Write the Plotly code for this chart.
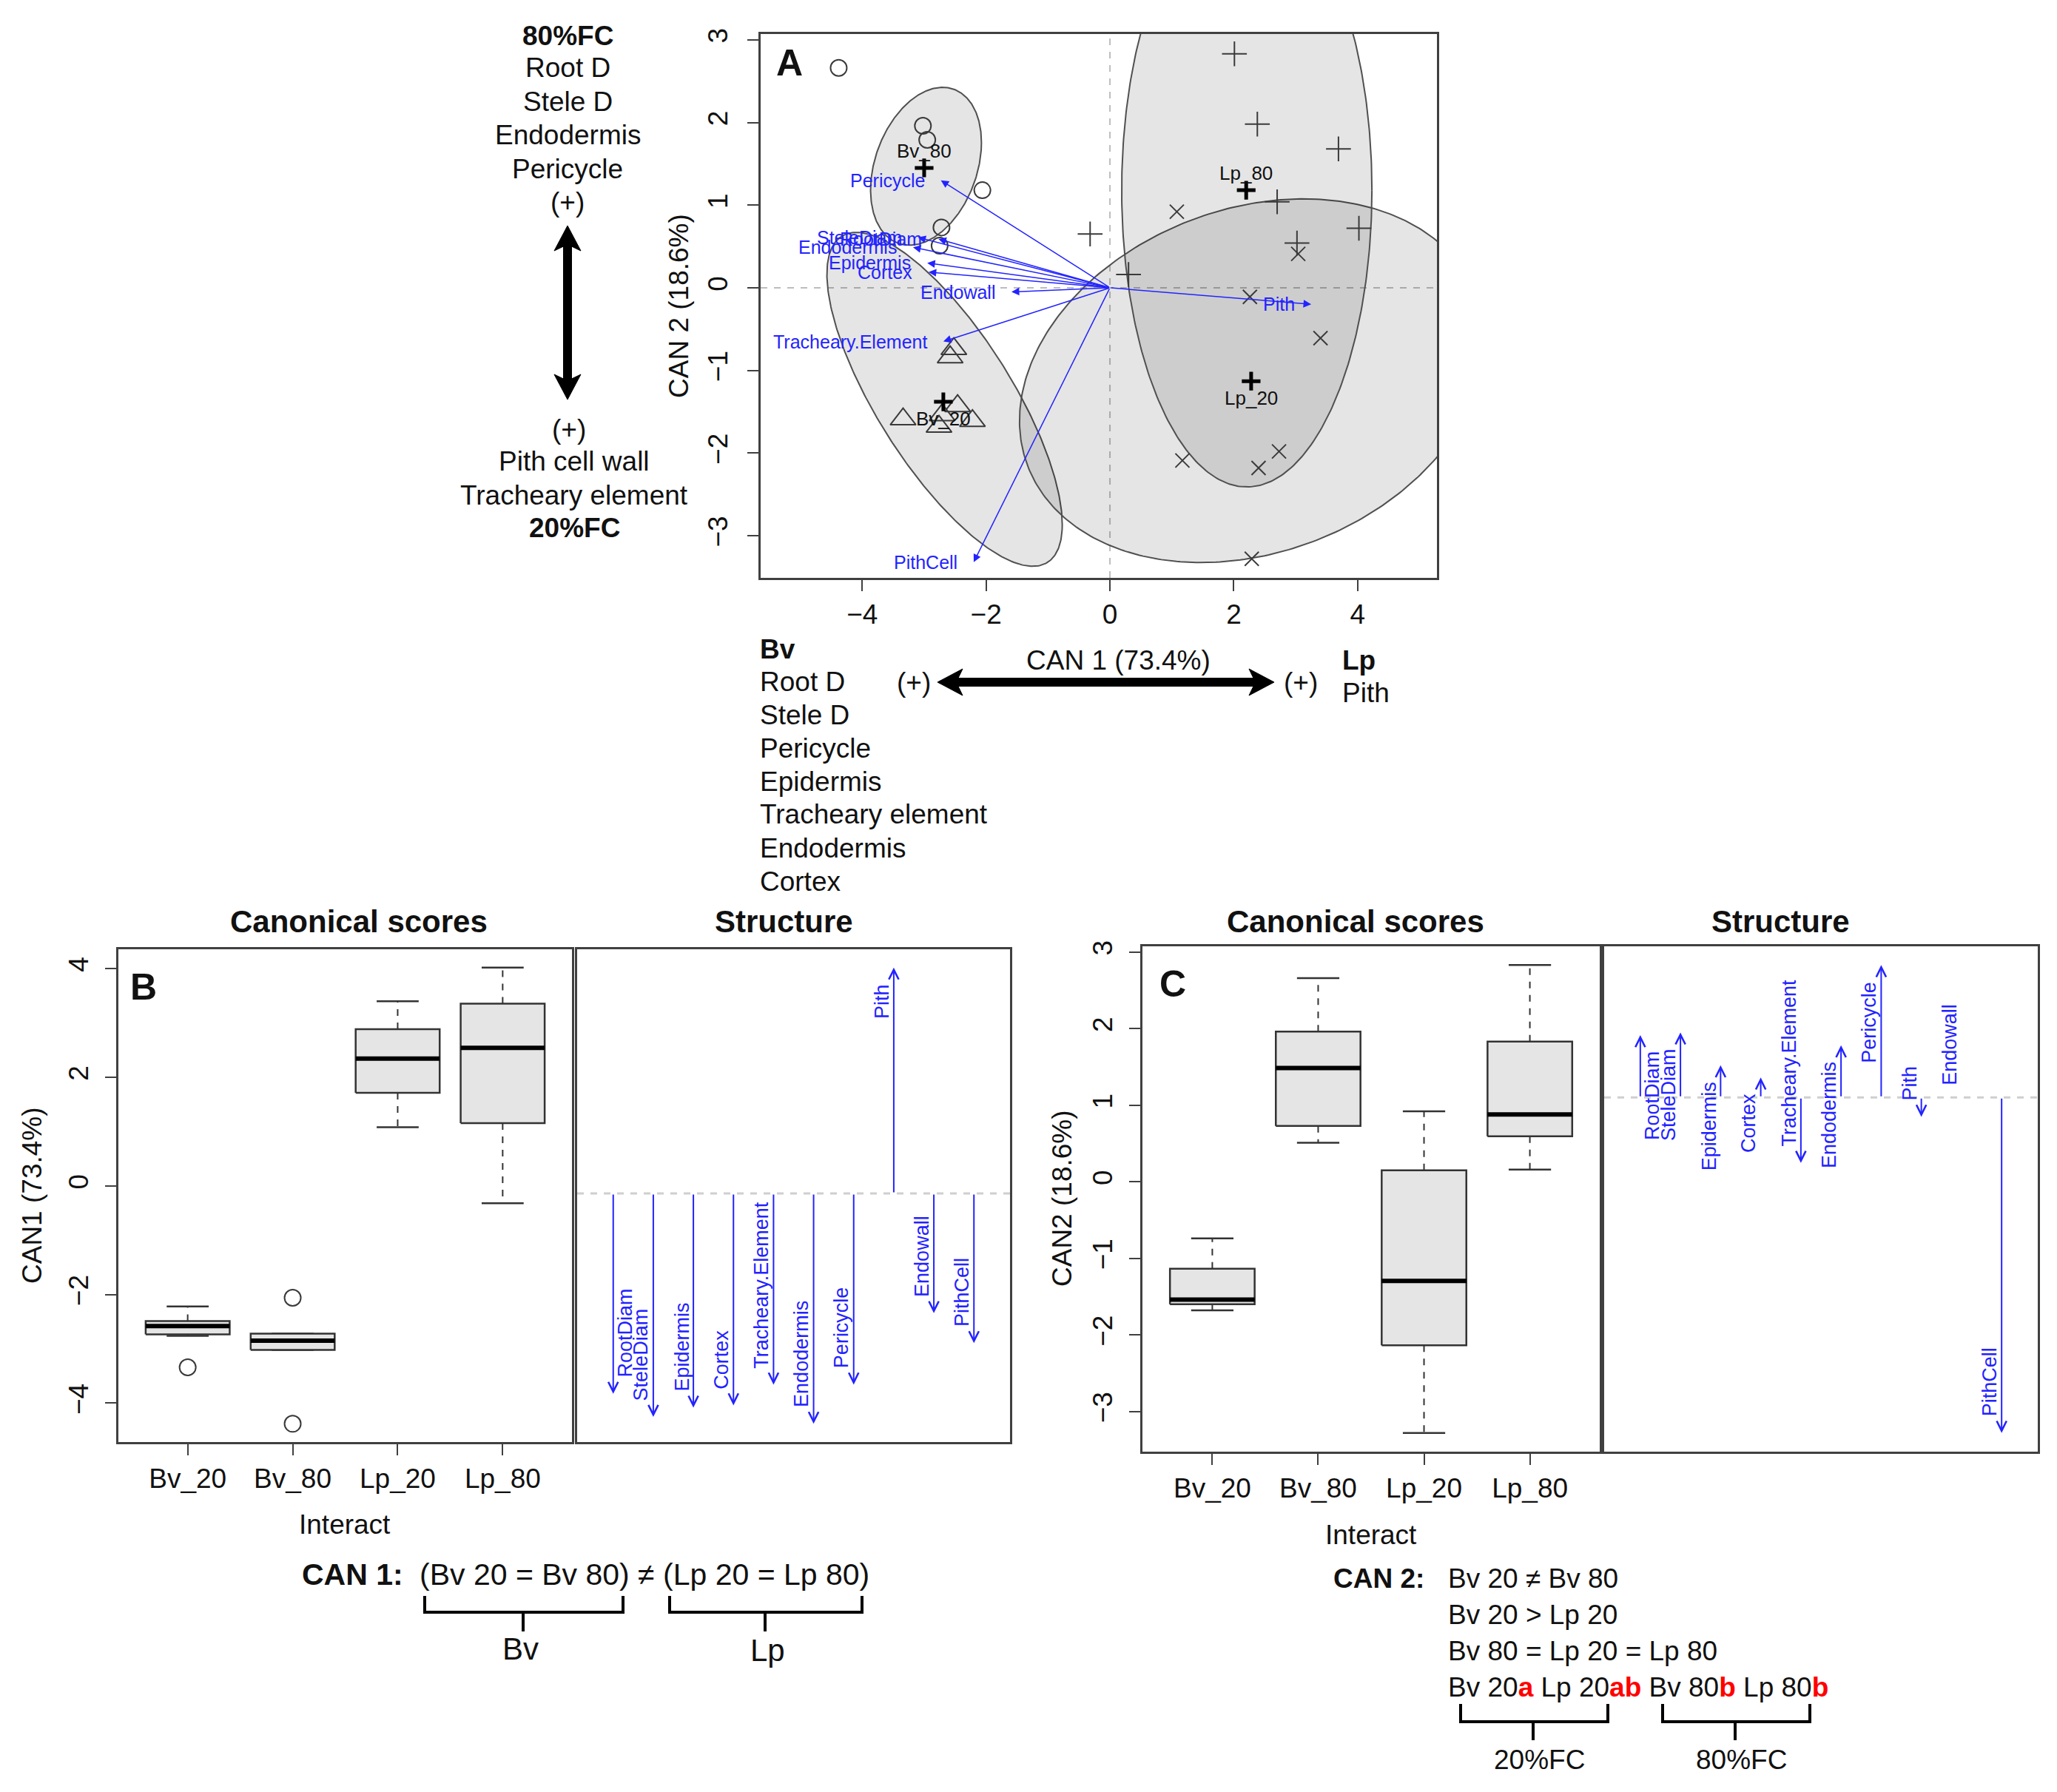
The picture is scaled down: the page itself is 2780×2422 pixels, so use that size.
import numpy as np
import plotly.graph_objects as go

W, H = 2780, 2422
FONT = "Liberation Sans, Arial, Helvetica, sans-serif"
BLUE = "#2323ff"
INK = "#111111"
FRAME = "#404040"
PT = "#3a3a3a"

# ---------------- data ----------------
groups = ["Bv_20", "Bv_80", "Lp_20", "Lp_80"]

bv20_can1 = [-2.52, -2.58, -3.34, -2.71, -2.46, -2.22, -2.76]
bv20_can2 = [-0.74, -0.84, -1.59, -1.54, -1.43, -1.61, -1.68]
bv80_can1 = [-4.38, -3.02, -2.95, -2.06, -2.72, -2.75]
bv80_can2 = [2.66, 1.96, 1.79, 1.18, 0.73, 0.51]
lp20_can1 = [1.08, 3.04, 2.26, 3.40, 1.17, 2.40, 2.73, 2.29]
lp20_can2 = [0.92, 0.41, -0.11, -0.61, -2.09, -2.18, -1.98, -3.28]
lp80_can1 = [2.01, 2.38, 3.69, 2.70, 4.02, 3.02, -0.32, 0.30]
lp80_can2 = [2.83, 1.98, 1.68, 1.04, 0.72, 0.54, 0.65, 0.16]

# group centroids (bold "+")
cent_can1 = [-2.69, -3.00, 2.28, 2.20]
cent_can2 = [-1.38, 1.45, -1.13, 1.18]

# data ellipses: centre, half-width, half-height, correlation
ell_cx = [-2.67, -2.97, 2.30, 2.21]
ell_cy = [-1.35, 1.47, -1.125, 1.18]
ell_hw = [1.90, 0.895, 3.76, 2.02]
ell_hh = [2.02, 0.955, 2.20, 3.59]
ell_rho = [-0.75, 0.30, 0.22, 0.0]

# structure vectors in panel A (arrow tips)
vars_ = ["RootDiam", "SteleDiam", "Epidermis", "Cortex", "Tracheary.Element",
         "Endodermis", "Pericycle", "Pith", "Endowall", "PithCell"]
vec_can1 = [-2.77, -3.10, -2.95, -2.93, -2.69, -3.18, -2.73, 3.25, -1.59, -2.20]
vec_can2 = [0.59, 0.61, 0.30, 0.19, -0.65, 0.49, 1.30, -0.20, -0.05, -3.32]

# structure coefficients (panels B and C)
struct_can1 = [-0.87, -0.97, -0.93, -0.92, -0.83, -1.00, -0.83, 0.98, -0.52, -0.65]
struct_can2 = [0.184, 0.192, 0.095, 0.059, -0.193, 0.154, 0.391, -0.057, -0.012, -0.99]

can1_by_group = [bv20_can1, bv80_can1, lp20_can1, lp80_can1]
can2_by_group = [bv20_can2, bv80_can2, lp20_can2, lp80_can2]


def pxr(x):
    return x / W


def pyr(y):
    return 1 - y / H


fig = go.Figure()

# ---------------- Panel A ----------------
t = np.linspace(0, 2 * np.pi, 361)
for cx, cy, hw, hh, rho in zip(ell_cx, ell_cy, ell_hw, ell_hh, ell_rho):
    ex = cx + hw * np.cos(t)
    ey = cy + hh * (rho * np.cos(t) + np.sqrt(1 - rho ** 2) * np.sin(t))
    fig.add_trace(go.Scatter(x=ex, y=ey, mode="lines", fill="toself",
                             fillcolor="rgba(0,0,0,0.10)",
                             line=dict(color="#505050", width=2),
                             xaxis="x", yaxis="y", hoverinfo="skip", showlegend=False))

sym = ["triangle-up-open", "circle-open", "x-thin", "cross-thin"]
sizes = [30, 22, 19, 24]
for g, s, sz in zip(range(4), sym, sizes):
    fig.add_trace(go.Scatter(x=can1_by_group[g], y=can2_by_group[g], mode="markers",
                             marker=dict(symbol=s, size=sz, color=PT,
                                         line=dict(color=PT, width=2)),
                             xaxis="x", yaxis="y", showlegend=False, hoverinfo="skip"))

fig.add_trace(go.Scatter(x=cent_can1, y=cent_can2, mode="markers",
                         marker=dict(symbol="cross-thin", size=18, color="black",
                                     line=dict(color="black", width=5)),
                         xaxis="x", yaxis="y", showlegend=False, hoverinfo="skip"))

ann = []
shapes = []


def T(text, x, y, size=37, bold=False, xanchor="center", yanchor="middle",
      color=INK, angle=0):
    if bold:
        text = "<b>" + text + "</b>"
    ann.append(dict(text=text, x=pxr(x), y=pyr(y), xref="paper", yref="paper",
                    xanchor=xanchor, yanchor=yanchor, showarrow=False,
                    font=dict(family=FONT, size=size, color=color), textangle=angle))


# group labels in panel A
for g in range(4):
    up = groups[g].endswith("80")
    ann.append(dict(text=groups[g], x=cent_can1[g], y=cent_can2[g], xref="x", yref="y",
                    showarrow=False, yshift=23 if up else -23,
                    font=dict(family=FONT, size=26, color=INK)))

# vectors in panel A
for name, vx, vy in zip(vars_, vec_can1, vec_can2):
    ann.append(dict(text="", x=vx, y=vy, ax=0, ay=0, xref="x", yref="y",
                    axref="x", ayref="y", showarrow=True, arrowhead=2,
                    arrowsize=1.4, arrowwidth=1.5, arrowcolor=BLUE, standoff=0))
    ann.append(dict(text=name, x=vx, y=vy, xref="x", yref="y", showarrow=False,
                    xanchor="right", yanchor="middle", xshift=-20,
                    font=dict(family=FONT, size=25, color=BLUE)))

# zero lines in A
shapes.append(dict(type="line", xref="x", yref="y domain", x0=0, x1=0, y0=0, y1=1,
                   line=dict(color="#bdbdbd", width=2, dash="dash"), layer="below"))
shapes.append(dict(type="line", xref="x domain", yref="y", x0=0, x1=1, y0=0, y1=0,
                   line=dict(color="#bdbdbd", width=2, dash="dash"), layer="below"))

# ---------------- Box plots (B: CAN1, C: CAN2) ----------------


def fivenum(vals):
    s = sorted(vals)
    n = len(s)
    n4 = np.floor((n + 3) / 2) / 2
    d = [1, n4, (n + 1) / 2, n + 1 - n4, n]
    return [0.5 * (s[int(np.floor(di - 1))] + s[int(np.ceil(di - 1))]) for di in d]


def add_box(xpos, vals, xa, ya):
    f = fivenum(vals)
    lo, med, hi = f[1], f[2], f[3]
    iqr = hi - lo
    inside = [v for v in vals if lo - 1.5 * iqr <= v <= hi + 1.5 * iqr]
    outl = [v for v in vals if v not in inside]
    lw, uw = min(inside), max(inside)
    common = dict(xaxis=xa, yaxis=ya, showlegend=False, hoverinfo="skip")
    fig.add_trace(go.Scatter(x=[xpos, xpos, None, xpos, xpos], y=[hi, uw, None, lo, lw],
                             mode="lines", line=dict(color="#333333", width=2, dash="dash"), **common))
    fig.add_trace(go.Scatter(x=[xpos - 0.2, xpos + 0.2, None, xpos - 0.2, xpos + 0.2],
                             y=[uw, uw, None, lw, lw], mode="lines",
                             line=dict(color="#333333", width=2.5), **common))
    fig.add_trace(go.Scatter(x=[xpos - 0.4, xpos + 0.4, xpos + 0.4, xpos - 0.4, xpos - 0.4],
                             y=[lo, lo, hi, hi, lo], mode="lines", fill="toself",
                             fillcolor="#e5e5e5", line=dict(color="#333333", width=2.5), **common))
    fig.add_trace(go.Scatter(x=[xpos - 0.4, xpos + 0.4], y=[med, med], mode="lines",
                             line=dict(color="black", width=6), **common))
    if outl:
        fig.add_trace(go.Scatter(x=[xpos] * len(outl), y=outl, mode="markers",
                                 marker=dict(symbol="circle-open", size=22, color=PT,
                                             line=dict(color=PT, width=2)), **common))


for i in range(4):
    add_box(i + 1, can1_by_group[i], "x2", "y2")
    add_box(i + 1, can2_by_group[i], "x4", "y4")


def padded(vals):
    lo, hi = min(vals), max(vals)
    p = 0.04 * (hi - lo)
    return [lo - p, hi + p]


all1 = [v for g in can1_by_group for v in g]
all2 = [v for g in can2_by_group for v in g]

# ---------------- Structure panels ----------------
for xa, ya, vals in [("x3", "y3", struct_can1), ("x5", "y5", struct_can2)]:
    shapes.append(dict(type="line", xref=xa + " domain", yref=ya, x0=0, x1=1, y0=0, y1=0,
                       line=dict(color="#cfcfcf", width=3, dash="dash"), layer="below"))
    for i, (name, v) in enumerate(zip(vars_, vals)):
        ann.append(dict(text="", x=i + 1, y=v, ax=i + 1, ay=0, xref=xa, yref=ya,
                        axref=xa, ayref=ya, showarrow=True, arrowhead=5, arrowsize=1.3,
                        arrowwidth=2, arrowcolor=BLUE, standoff=0))
        down = v < 0
        ann.append(dict(text=name, x=i + 1, y=v, xref=xa, yref=ya, showarrow=False,
                        textangle=-90, xanchor="center",
                        yanchor="bottom" if down else "top",
                        yshift=20 if down else -20,
                        xshift=16 if name == "RootDiam" else -16,
                        font=dict(family=FONT, size=27, color=BLUE)))

# ---------------- Text blocks ----------------
# left block (CAN2 interpretation)
T("80%FC", 767, 48, bold=True)
T("Root D", 767, 92)
T("Stele D", 767, 138)
T("Endodermis", 767, 183)
T("Pericycle", 767, 228)
T("(+)", 767, 274)
T("(+)", 769, 580)
T("Pith cell wall", 776, 624)
T("Tracheary element", 776, 669)
T("20%FC", 776, 713, bold=True)

# bottom block (CAN1 interpretation)
for txt, yy, b in [("Bv", 877, True), ("Root D", 921, False), ("Stele D", 966, False),
                   ("Pericycle", 1011, False), ("Epidermis", 1056, False),
                   ("Tracheary element", 1101, False), ("Endodermis", 1146, False),
                   ("Cortex", 1191, False)]:
    T(txt, 1025, yy, bold=b, xanchor="left")
T("(+)", 1235, 922)
T("(+)", 1758, 922)
T("CAN 1 (73.4%)", 1511, 892)
T("Lp", 1812, 893, bold=True, xanchor="left")
T("Pith", 1812, 936, xanchor="left")

# axis titles / panel letters / panel titles
T("CAN 2 (18.6%)", 917, 414, angle=-90)
T("CAN1 (73.4%)", 43, 1616, angle=-90)
T("CAN2 (18.6%)", 1436, 1620, angle=-90)
T("Interact", 466, 2060)
T("Interact", 1853, 2074)
T("A", 1067, 85, size=50, bold=True)
T("B", 194, 1334, size=50, bold=True)
T("C", 1585, 1330, size=50, bold=True)
T("Canonical scores", 485, 1245, size=42, bold=True)
T("Structure", 1059, 1245, size=42, bold=True)
T("Canonical scores", 1832, 1245, size=42, bold=True)
T("Structure", 2406, 1245, size=42, bold=True)

# equations
T("CAN 1:", 406, 2128, size=41, bold=True, xanchor="left")
T("(Bv 20 = Bv 80) \u2260 (Lp 20 = Lp 80)", 565, 2128, size=41, xanchor="left")
T("Bv", 703, 2228, size=42)
T("Lp", 1037, 2230, size=42)
T("CAN 2:", 1800, 2133, bold=True, xanchor="left")
T("Bv 20 \u2260 Bv 80", 1955, 2133, xanchor="left")
T("Bv 20 > Lp 20", 1955, 2182, xanchor="left")
T("Bv 80 = Lp 20 = Lp 80", 1955, 2231, xanchor="left")
R = "<b><span style='color:#ff0000'>%s</span></b>"
T("Bv 20" + R % "a" + " Lp 20" + R % "ab" + " Bv 80" + R % "b" + " Lp 80" + R % "b",
  1955, 2280, xanchor="left")
T("20%FC", 2080, 2378)
T("80%FC", 2353, 2378)


def P(pts, close=True):
    s = "M" + " L".join("%.5f,%.5f" % (pxr(a), pyr(b)) for a, b in pts)
    return s + (" Z" if close else "")


# big double-headed arrows (drawn as filled outlines)
vx, vt, vb = 767, 305, 540
shapes.append(dict(type="path", xref="paper", yref="paper", fillcolor="black",
                   line=dict(color="black", width=1),
                   path=P([(vx, vt), (vx + 18, vt + 34), (vx + 5.5, vt + 28), (vx + 5.5, vb - 28),
                           (vx + 18, vb - 34), (vx, vb), (vx - 18, vb - 34), (vx - 5.5, vb - 28),
                           (vx - 5.5, vt + 28), (vx - 18, vt + 34)])))
hy, hl, hr = 922, 1267, 1722
shapes.append(dict(type="path", xref="paper", yref="paper", fillcolor="black",
                   line=dict(color="black", width=1),
                   path=P([(hl, hy), (hl + 34, hy - 18), (hl + 28, hy - 5.5), (hr - 28, hy - 5.5),
                           (hr - 34, hy - 18), (hr, hy), (hr - 34, hy + 18), (hr - 28, hy + 5.5),
                           (hl + 28, hy + 5.5), (hl + 34, hy + 18)])))


def bracket(x0, x1, xm, ytop, ybar, ybot):
    p = P([(x0, ytop), (x0, ybar), (x1, ybar), (x1, ytop)], close=False) + " " + \
        P([(xm, ybar), (xm, ybot)], close=False)
    shapes.append(dict(type="path", xref="paper", yref="paper", path=p,
                       line=dict(color="black", width=4)))


bracket(574, 842, 707, 2157, 2179, 2205)
bracket(905, 1165, 1034, 2157, 2179, 2205)
bracket(1974, 2173, 2072, 2303, 2327, 2352)
bracket(2247, 2446, 2345, 2303, 2327, 2352)

# ---------------- axes ----------------


def axis(dom, rng, **kw):
    d = dict(domain=dom, range=rng, showline=True, linecolor=FRAME, linewidth=2.5,
             mirror=True, showgrid=False, zeroline=False, ticks="outside", ticklen=15,
             tickwidth=2, tickcolor=FRAME, automargin=False,
             tickfont=dict(family=FONT, size=37, color=INK))
    d.update(kw)
    return d


def bare(dom, rng):
    return dict(domain=dom, range=rng, showline=True, linecolor=FRAME, linewidth=2.5,
                mirror=True, showgrid=False, zeroline=False, ticks="",
                showticklabels=False, automargin=False)


dxA = [1028 / W, 1942 / W]
dyA = [1 - 781 / H, 1 - 46 / H]
dyB = [1 - 1949 / H, 1 - 1283 / H]
dyC = [1 - 1962 / H, 1 - 1279 / H]

fig.update_layout(
    width=W, height=H, margin=dict(l=0, r=0, t=0, b=0),
    paper_bgcolor="white", plot_bgcolor="white", showlegend=False,
    xaxis=axis(dxA, [-5.64, 5.28], tickvals=[-4, -2, 0, 2, 4], anchor="y",
               ticklabelstandoff=0),
    yaxis=axis(dyA, [-3.51, 3.07], tickvals=[-3, -2, -1, 0, 1, 2, 3], tickangle=-90,
               anchor="x", ticklabelstandoff=12),
    xaxis2=axis([160 / W, 773 / W], [0.34, 4.66], tickvals=[1, 2, 3, 4], ticktext=groups,
                anchor="y2", ticklabelstandoff=0),
    yaxis2=axis(dyB, padded(all1), tickvals=[-4, -2, 0, 2, 4], tickangle=-90, anchor="x2",
                ticklabelstandoff=8),
    xaxis3=dict(bare([780 / W, 1365 / W], [0.1, 10.9]), anchor="y3"),
    yaxis3=dict(bare(dyB, padded(struct_can1)), anchor="x3"),
    xaxis4=axis([1544 / W, 2162 / W], [0.34, 4.66], tickvals=[1, 2, 3, 4], ticktext=groups,
                anchor="y4", ticklabelstandoff=0),
    yaxis4=axis(dyC, padded(all2), tickvals=[-3, -2, -1, 0, 1, 2, 3], tickangle=-90,
                anchor="x4", ticklabelstandoff=8),
    xaxis5=dict(bare([2168 / W, 2754 / W], [0.1, 10.9]), anchor="y5"),
    yaxis5=dict(bare(dyC, padded(struct_can2)), anchor="x5"),
    annotations=ann, shapes=shapes,
)

fig.write_html("out.html", config={"displayModeBar": False},
               post_script="document.body.style.margin='0';")
